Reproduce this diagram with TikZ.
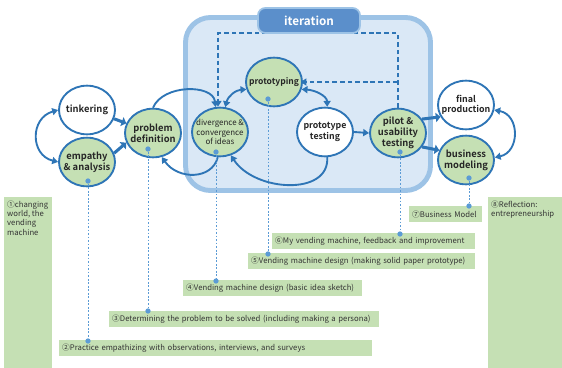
\documentclass[tikz,border=0pt]{standalone}
\usepackage{fontspec}
\setmainfont{Noto Sans CJK KR}[BoldFont={Noto Sans CJK KR Bold}]
\usetikzlibrary{shapes.geometric, arrows.meta, positioning, calc}

\definecolor{arrowblue}{HTML}{2E75B6}
\definecolor{dotblue}{HTML}{5B9BD5}
\definecolor{stepgreen}{HTML}{C5E0B4}
\definecolor{iterfill}{HTML}{DAE8F6}
\definecolor{iterline}{HTML}{9DC3E6}
\definecolor{tabfill}{HTML}{5B8FCB}

\begin{document}
\begin{tikzpicture}[x=0.03cm, y=-0.03cm,
        stage/.style={ellipse, draw=arrowblue, line width=1.6pt, minimum width=1.68cm, minimum height=1.46cm, inner xsep=-6pt, inner ysep=0pt, align=center, text=black!85, font=\bfseries\fontsize{8}{9.5}\selectfont},
        greenstage/.style={stage, fill=stepgreen},
        whitestage/.style={stage, fill=white},
        arrow/.style={-{Triangle[length=5pt,width=6pt]}, line width=1.6pt, draw=arrowblue},
        biarrow/.style={{Triangle[length=5pt,width=6pt]}-{Triangle[length=5pt,width=6pt]}, line width=1.6pt, draw=arrowblue},
        fatarrow/.style={-{Triangle[length=4pt,width=8pt]}, line width=2.6pt, draw=arrowblue},
        looparrow/.style={arrow, dash pattern=on 4pt off 2.5pt},
        guide/.style={draw=dotblue, line width=0.7pt, dash pattern=on 1.5pt off 1.5pt},
        pin/.style={circle, fill=dotblue, inner sep=0pt, minimum size=4.5pt},
        note/.style={fill=stepgreen, anchor=north west, inner xsep=0.09cm, inner ysep=0pt, minimum height=0.48cm, align=left, text=black!80, font=\fontsize{6.6}{7.9}\selectfont}
    ]
        \useasboundingbox (0,0) rectangle (562,368);

        % Iteration area
        \draw[line width=4.2pt, draw=iterline, fill=iterfill, rounded corners=0.75cm] (185.5,17.5) rectangle (430.5,190.5);

        % Stages
        \node[whitestage] (tinker) at (87,110) {tinkering};
        \node[greenstage] (empathy) at (87,162) {empathy\\\& analysis};
        \node[greenstage] (problem) at (153,133) {problem\\definition};
        \node[greenstage, font=\fontsize{6.8}{8.2}\selectfont] (diverge) at (220,132) {divergence \&\\convergence\\of ideas};
        \node[greenstage, font=\bfseries\fontsize{7.3}{8.5}\selectfont] (proto) at (274,82) {prototyping};
        \node[whitestage, font=\bfseries\fontsize{7.5}{9}\selectfont] (ptest) at (325,132) {prototype\\testing};
        \node[greenstage] (pilot) at (398,133) {pilot \&\\usability\\testing};
        \node[whitestage, font=\bfseries\fontsize{7.6}{9}\selectfont] (final) at (466,105) {final\\production};
        \node[greenstage] (business) at (466,160) {business\\modeling};

        % Feedback loops (dashed)
        \node[minimum width=3.06cm, minimum height=0.75cm] (iterpos) at (309,20.5) {};
        \draw[looparrow] (pilot.north) |- (iterpos.south) -| ($(diverge.north)+(-2,0)$);
        \coordinate (loopmid) at (pilot.north |- proto.east);
        \draw[looparrow, shorten >=-2pt] (loopmid) -- (proto.east);

        % Tab
        \node[fill=tabfill, draw=iterline, line width=1.5pt, rounded corners=0.22cm, minimum width=3.06cm, minimum height=0.75cm, text=white, font=\bfseries\fontsize{10}{12}\selectfont] (iter) at (309,20.5) {iteration};

        % Arrows
        \draw[biarrow] (tinker.west) .. controls (30,118) and (30,155) .. (empathy.west);
        \draw[fatarrow] (tinker.-18) -- (problem.160);
        \draw[fatarrow] (empathy.18) -- (problem.200);
        \draw[arrow] (problem.north) .. controls (163,84) and (213,84) .. (diverge.100);
        \draw[arrow] (diverge.265) .. controls (212,180) and (178,180) .. (problem.-70);
        \draw[biarrow] (diverge.78) .. controls (228,96) and (236,90) .. (proto.195);
        \draw[biarrow] (proto.-15) .. controls (315,90) and (327,96) .. (ptest.85);
        \draw[arrow] (ptest.east) -- (pilot.west);
        \draw[arrow] (ptest.-85) .. controls (330,196) and (255,192) .. (diverge.-65);
        \draw[fatarrow] (pilot.30) -- (final.205);
        \draw[fatarrow] (pilot.-30) -- (business.160);
        \draw[biarrow] (final.-10) .. controls (520,115) and (520,152) .. (business.5);

        % Lesson boxes
        \node[note, text width=1.26cm, minimum height=5.13cm] (worldbox) at (4,197) {};
        \node[note, fill=none, inner ysep=3pt] (worldtext) at (worldbox.north west) {①changing\\world, the\\vending\\machine};
        \node[note, text width=2.04cm, minimum height=5.13cm] (reflectbox) at (488,197) {};
        \node[note, fill=none, inner ysep=3pt] (reflecttext) at (reflectbox.north west) {⑧Reflection:\\entrepreneurship};
        \node[note, text width=9.21cm] (empnote) at (59,340) {②Practice empathizing with observations, interviews, and surveys};
        \node[note, text width=7.92cm] (probnote) at (109,311) {③Determining the problem to be solved (including making a persona)};
        \node[note, text width=5.19cm] (divnote) at (183,280) {④Vending machine design (basic idea sketch)};
        \node[note, text width=6.63cm] (protonote) at (248,253) {⑤Vending machine design (making solid paper prototype)};
        \node[note, text width=5.91cm] (pilotnote) at (272,233) {⑥My vending machine, feedback and improvement};
        \node[note, text width=2.01cm] (busnote) at (409,206) {⑦Business Model};

        % Guide lines
        \node[pin] (empdot) at (88,181) {};
        \node[pin] (empend) at (88,341) {};
        \node[pin] (probdot) at (148,149) {};
        \node[pin] (probend) at (148,311) {};
        \node[pin] (divdot) at (216,152) {};
        \node[pin] (divend) at (216,281) {};
        \node[pin] (protodot) at (268,99) {};
        \node[pin] (protoend) at (268,254) {};
        \node[pin] (pilotdot) at (400,152) {};
        \node[pin] (pilotend) at (400,234) {};
        \node[pin] (busdot) at (469,178) {};
        \node[pin] (busend) at (469,206) {};
        \draw[guide] (empdot) -- (empend);
        \draw[guide] (probdot) -- (probend);
        \draw[guide] (divdot) -- (divend);
        \draw[guide] (protodot) -- (protoend);
        \draw[guide] (pilotdot) -- (pilotend);
        \draw[guide] (busdot) -- (busend);
    \end{tikzpicture}
\end{document}
